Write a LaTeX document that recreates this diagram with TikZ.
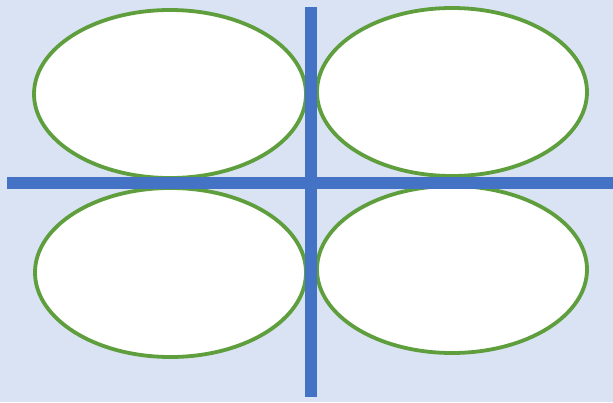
\documentclass[tikz,border=0pt]{standalone}
\usetikzlibrary{shapes.geometric}
\definecolor{bgblue}{HTML}{DAE3F3}
\definecolor{barblue}{HTML}{4472C4}
\definecolor{lobegreen}{HTML}{5E9E3D}
\begin{document}
\begin{tikzpicture}[x=1pt,y=-1pt,
  lobe/.style={ellipse,draw=lobegreen,fill=white,line width=3.8pt,inner sep=0pt,outer sep=0pt},
  bar/.style={fill=barblue,draw=none}]
\fill[bgblue] (0,0) rectangle (613,402);
\useasboundingbox (0,0) rectangle (613,402);
\node[lobe,minimum width=272pt,minimum height=168pt] (tl) at (170,94) {};
\node[lobe,minimum width=270pt,minimum height=168pt] (tr) at (452,92) {};
\node[lobe,minimum width=271pt,minimum height=169pt] (bl) at (170.5,272.5) {};
\node[lobe,minimum width=270pt,minimum height=167pt] (br) at (452,269.5) {};
\fill[bar] (305,7) rectangle (317,397);
\fill[bar] (7,177) rectangle (613,189);
\end{tikzpicture}
\end{document}
